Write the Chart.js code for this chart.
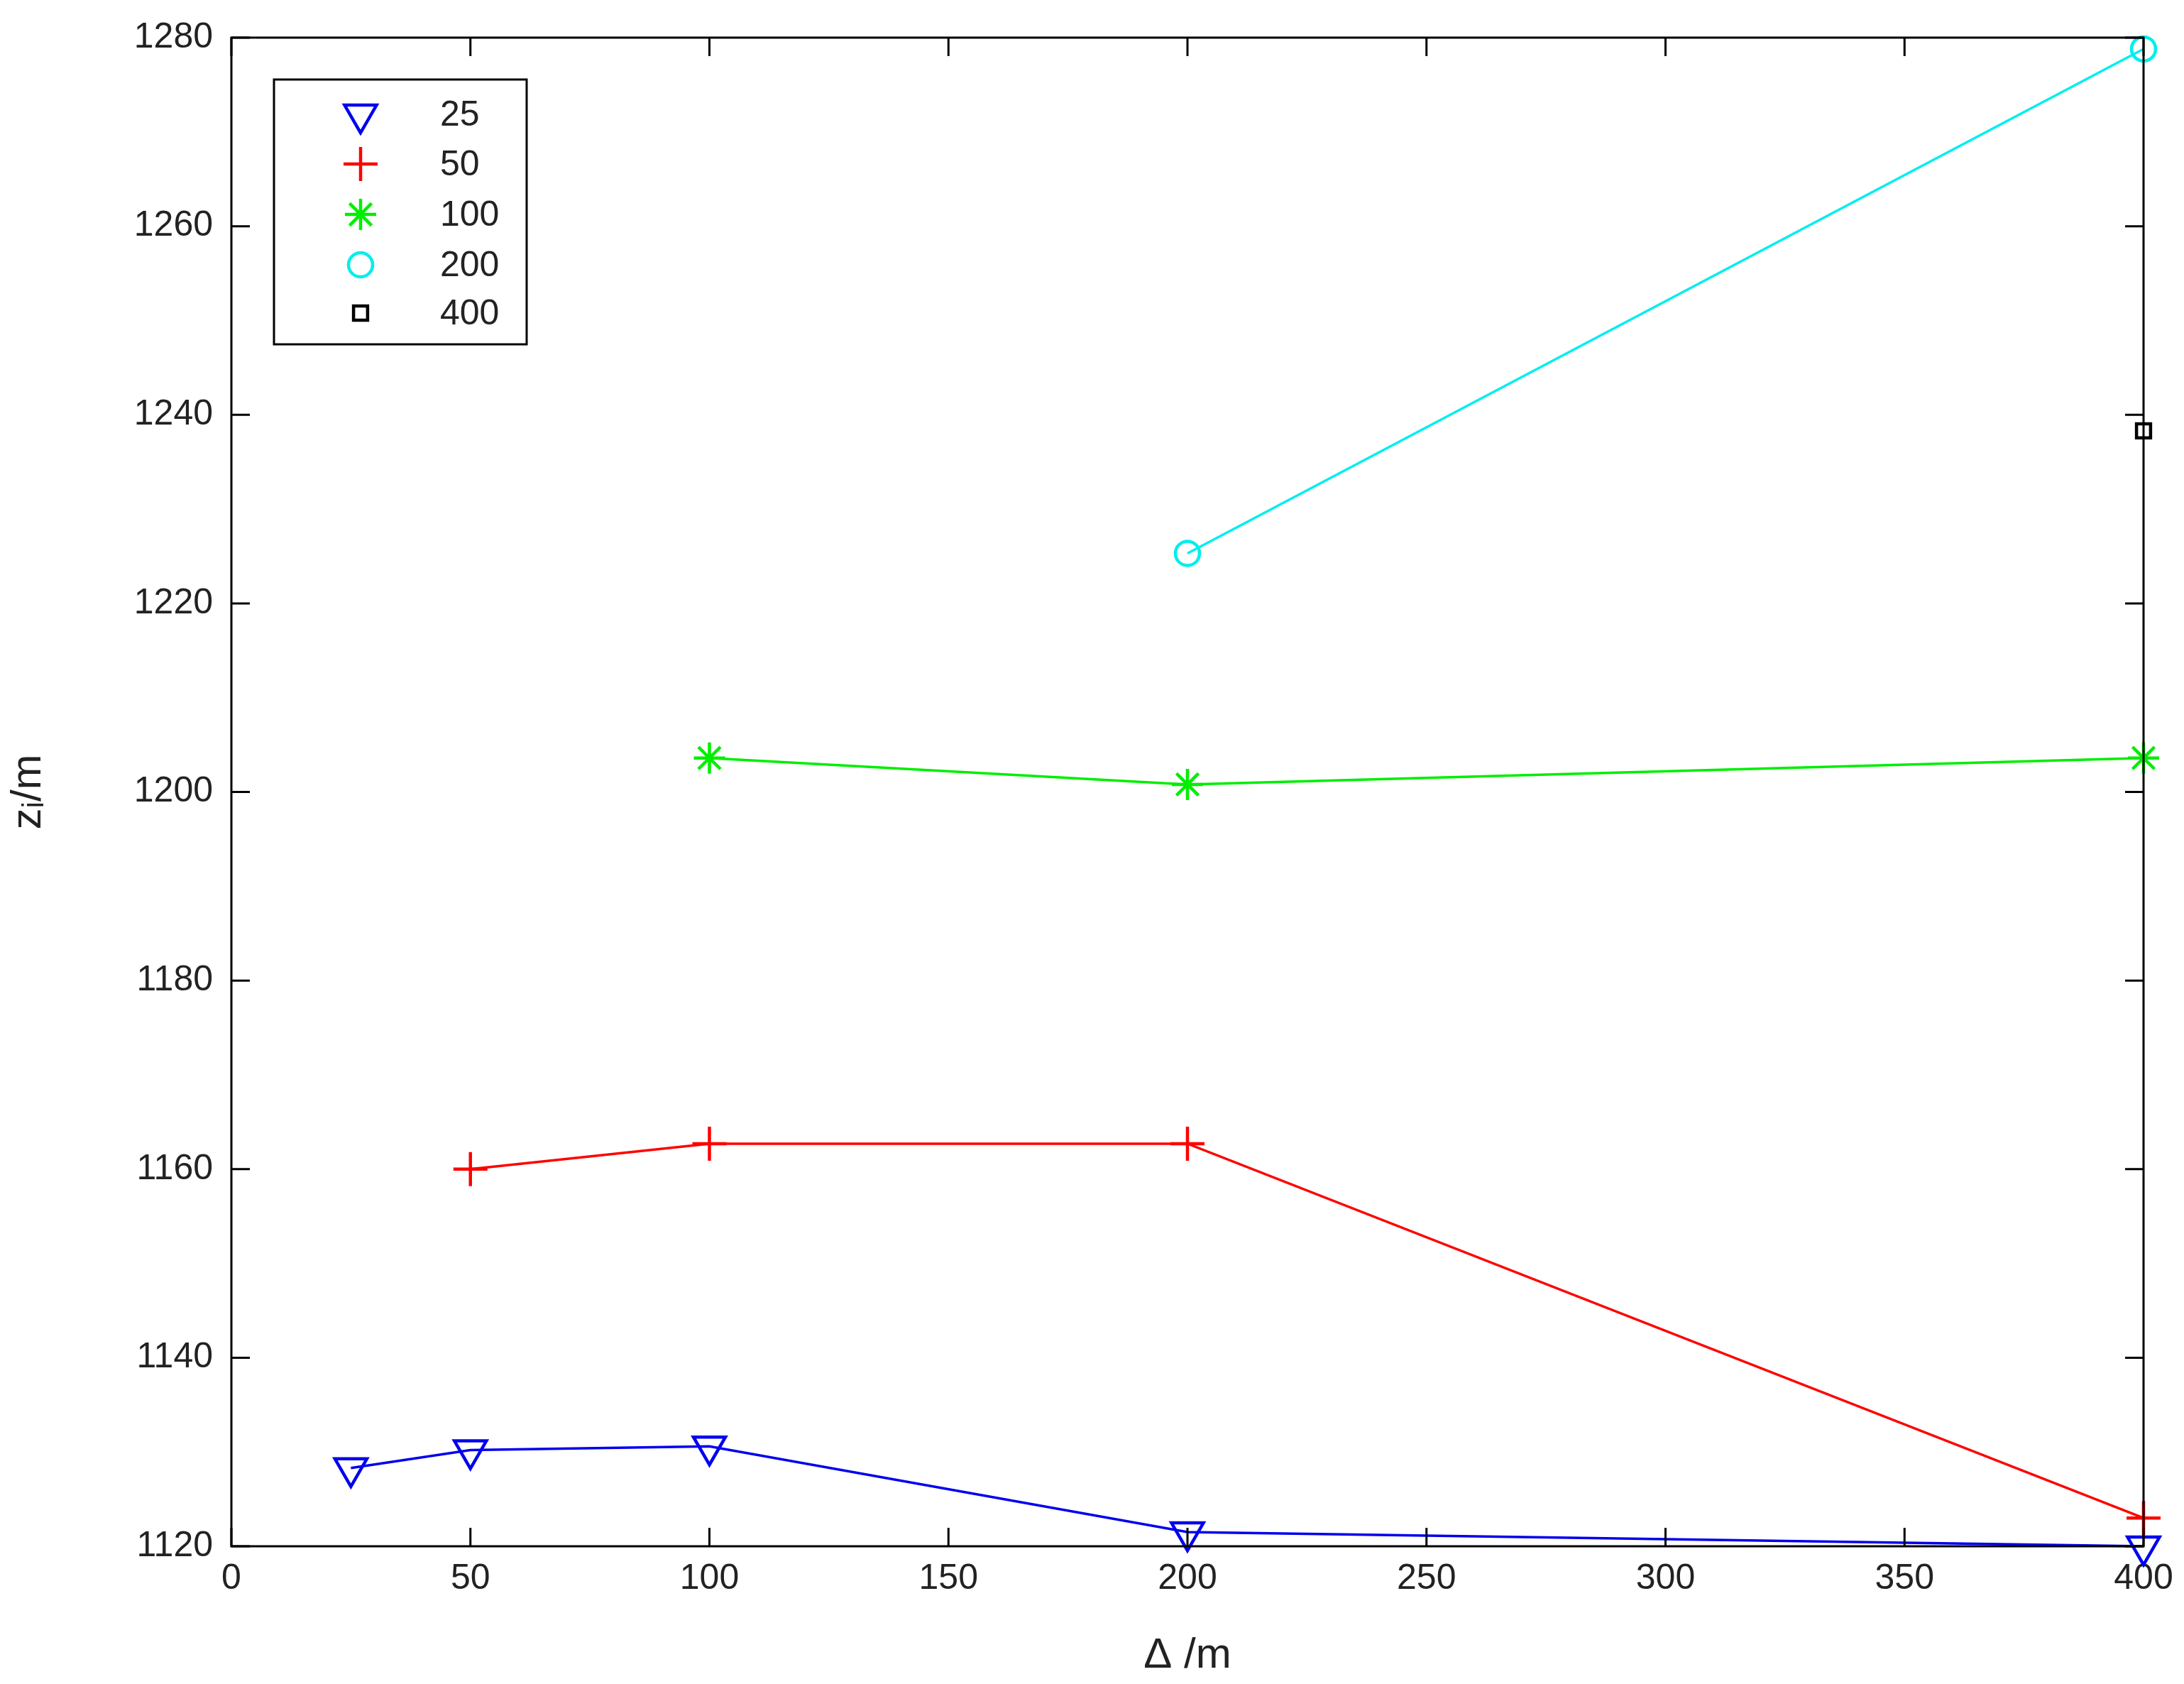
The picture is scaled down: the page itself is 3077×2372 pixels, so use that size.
<!DOCTYPE html>
<html><head><meta charset="utf-8">
<script src="https://cdn.jsdelivr.net/npm/chart.js@4/dist/chart.umd.min.js"></script>
<style>html,body{margin:0;padding:0;background:#fff}</style>
</head><body>
<canvas id="c" width="3077" height="2372" style="width:3077px;height:2372px"></canvas>
<script>
const labels = ['25','50','100','200','400'];
const xs25 = [25,50,100,200,400], ys25 = [1128.3,1130.2,1130.6,1121.5,1120.0];
const xs50 = [50,100,200,400], ys50 = [1160.0,1162.7,1162.7,1123.0];
const xs100 = [100,200,400], ys100 = [1203.6,1200.8,1203.6];
const xs200 = [200,400], ys200 = [1225.3,1278.8];
const xs400 = [400], ys400 = [1238.3];
const colors = ['#0000ee','#ff0000','#00ee00','#00eeee','#000000'];
const styles = ['triangle','cross','star','circle','rect'];
const rots = [180,0,0,0,0];
const radii = [26,24,22,17,14];
const xsAll=[xs25,xs50,xs100,xs200,xs400], ysAll=[ys25,ys50,ys100,ys200,ys400];
const datasets = labels.map((l,i)=>({
  label:l, data: xsAll[i].map((x,j)=>({x, y: ysAll[i][j]})),
  borderColor:colors[i], backgroundColor:'rgba(0,0,0,0)', pointBorderColor:colors[i],
  pointBackgroundColor:'rgba(0,0,0,0)', borderWidth:3.5, pointBorderWidth:4.5,
  pointStyle:styles[i], rotation:rots[i], pointRadius:radii[i], showLine:true, tension:0, clip:false
}));
const F = "'Liberation Sans', Arial, sans-serif";
const frame = {id:'frame', afterDraw(ch){
  const c=ch.ctx, a=ch.chartArea; c.save();
  c.strokeStyle='#000'; c.lineWidth=3;
  c.strokeRect(a.left,a.top,a.right-a.left,a.bottom-a.top);
  const L=26;
  ch.scales.x.ticks.forEach(t=>{const px=ch.scales.x.getPixelForValue(t.value);
    c.beginPath();c.moveTo(px,a.bottom);c.lineTo(px,a.bottom-L);c.moveTo(px,a.top);c.lineTo(px,a.top+L);c.stroke();});
  ch.scales.y.ticks.forEach(t=>{const py=ch.scales.y.getPixelForValue(t.value);
    c.beginPath();c.moveTo(a.left,py);c.lineTo(a.left+L,py);c.moveTo(a.right,py);c.lineTo(a.right-L,py);c.stroke();});
  c.fillStyle='#fff'; c.fillRect(386,112,356,373);
  c.lineWidth=3; c.strokeRect(386,112,356,373);
  const rows=[161,231,302,373,441];
  c.textBaseline='middle'; c.textAlign='left';
  labels.forEach((l,i)=>{
    c.strokeStyle=colors[i]; c.fillStyle='rgba(0,0,0,0)'; c.lineWidth=4.5;
    Chart.helpers.drawPoint(c,{pointStyle:styles[i],rotation:rots[i],radius:radii[i],borderWidth:4.5},508,rows[i]);
    c.font='50px '+F; c.fillStyle='#222'; c.fillText(l,620,rows[i]+2);
  });
  c.restore();
}};
new Chart(document.getElementById('c'),{
  type:'scatter', data:{datasets},
  options:{responsive:false, devicePixelRatio:1, animation:false,
    layout:{padding:{top:53,right:57,left:0,bottom:0}},
    plugins:{legend:{display:false}, tooltip:{enabled:false}},
    scales:{
      x:{type:'linear',min:0,max:400,afterFit(s){s.height=194;},
        grid:{display:false}, border:{display:false},
        ticks:{stepSize:50,color:'#222',font:{size:50,family:F},padding:8,maxRotation:0,callback:v=>String(v)},
        title:{display:true,text:'Δ /m',color:'#222',font:{size:60,family:F},padding:{top:4}}},
      y:{min:1120,max:1280,afterFit(s){s.width=326;},
        grid:{display:false}, border:{display:false},
        ticks:{stepSize:20,color:'#222',font:{size:50,family:F},padding:18,callback:v=>String(v)},
        title:{display:true,text:'zᵢ/m',color:'#222',font:{size:60,family:F},padding:{bottom:20}}}
    }},
  plugins:[frame]
});
</script></body></html>
